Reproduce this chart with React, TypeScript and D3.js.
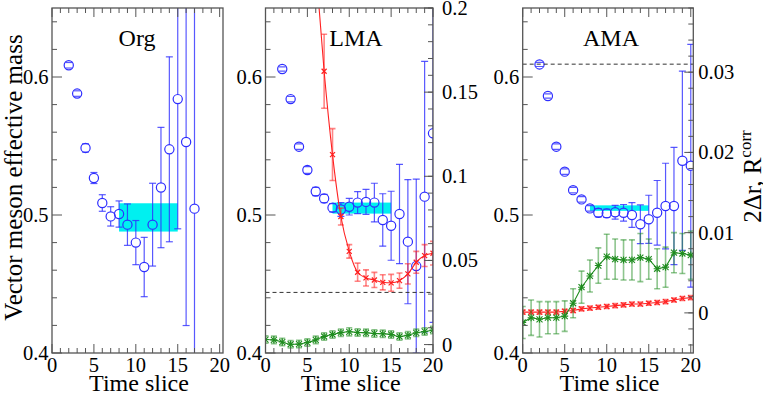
import React from 'react';
import * as d3 from 'd3';

// ---------------- DATA ----------------
const orgT = [2, 3, 4, 5, 6, 7, 8, 9, 10, 11, 12, 13, 14, 15, 16, 17];
const orgMass = [0.6085, 0.588, 0.5486, 0.5268, 0.5087, 0.499, 0.5007, 0.493, 0.48, 0.4623, 0.493, 0.5199, 0.5476, 0.584, 0.5529, 0.5046];
const orgErr = [0.002, 0.002, 0.003, 0.004, 0.006, 0.007, 0.0095, 0.015, 0.016, 0.0215, 0.03, 0.0436, 0.067, 0.094, 0.133, 0.2];
const orgBand = [8, 15, 0.488, 0.5085];

const lmaT = [2, 3, 4, 5, 6, 7, 8, 9, 10, 11, 12, 13, 14, 15, 16, 17, 18, 19, 20];
const lmaMass = [0.6058, 0.584, 0.5495, 0.5326, 0.517, 0.512, 0.5053, 0.504, 0.506, 0.509, 0.5095, 0.509, 0.4964, 0.4922, 0.5007, 0.4807, 0.463, 0.5133, 0.5592];
const lmaErr = [0.0015, 0.002, 0.002, 0.0025, 0.003, 0.003, 0.003, 0.005, 0.006, 0.008, 0.009, 0.014, 0.019, 0.025, 0.036, 0.045, 0.063, 0.098, 0.137];
const lmaBand = [8, 15, 0.501, 0.509];
const lmaRedT = [6, 7, 8, 9, 10, 11, 12, 13, 14, 15, 16, 17, 18, 19, 20];
const lmaRed = [0.225, 0.1624, 0.1129, 0.0761, 0.0554, 0.043, 0.0396, 0.0384, 0.037, 0.0367, 0.038, 0.042, 0.0489, 0.0529, 0.0543];
const lmaRedErr = [0.02, 0.022, 0.0154, 0.005, 0.004, 0.0054, 0.0048, 0.0045, 0.0045, 0.005, 0.0045, 0.006, 0.0065, 0.0065, 0.007];
const lmaGreenT = [0, 1, 2, 3, 4, 5, 6, 7, 8, 9, 10, 11, 12, 13, 14, 15, 16, 17, 18, 19, 20];
const lmaGreen = [0.003, 0.0028, 0.0015, 0.0002, 0.0003, 0.0012, 0.0028, 0.0048, 0.006, 0.0071, 0.0076, 0.0072, 0.007, 0.0066, 0.0064, 0.006, 0.0048, 0.0055, 0.007, 0.0078, 0.0087];
const lmaGreenErr = [0.0022, 0.0022, 0.0022, 0.0022, 0.0022, 0.0022, 0.0022, 0.0022, 0.0022, 0.0022, 0.0024, 0.0022, 0.0022, 0.0022, 0.0022, 0.0022, 0.0022, 0.0022, 0.0022, 0.0022, 0.0022];
const lmaDashed = 0.031;

const amaT = [2, 3, 4, 5, 6, 7, 8, 9, 10, 11, 12, 13, 14, 15, 16, 17, 18, 19, 20];
const amaMass = [0.6091, 0.5862, 0.5495, 0.5314, 0.518, 0.5113, 0.5048, 0.5016, 0.5012, 0.502, 0.5016, 0.5, 0.4933, 0.4969, 0.5016, 0.5065, 0.5065, 0.5393, 0.5357];
const amaErr = [0.0015, 0.0015, 0.002, 0.002, 0.002, 0.002, 0.002, 0.003, 0.003, 0.005, 0.006, 0.009, 0.014, 0.0174, 0.0234, 0.031, 0.0425, 0.065, 0.088];
const amaBand = [8, 15, 0.503, 0.507];
const amaRedT = [0, 1, 2, 3, 4, 5, 6, 7, 8, 9, 10, 11, 12, 13, 14, 15, 16, 17, 18, 19, 20];
const amaRed = [0.0001, 0.0001, 0.0001, 0.0001, 0.0001, 0.0002, 0.0003, 0.0005, 0.0006, 0.0007, 0.0008, 0.0009, 0.001, 0.0011, 0.0011, 0.0012, 0.0013, 0.0014, 0.0016, 0.0018, 0.0019];
const amaRedErr = [0.00025, 0.00025, 0.00025, 0.00025, 0.00025, 0.00025, 0.00025, 0.00025, 0.00025, 0.00025, 0.00025, 0.00025, 0.00025, 0.00025, 0.00025, 0.00025, 0.00025, 0.00025, 0.00025, 0.00025, 0.00025];
const amaGreenT = [0, 1, 2, 3, 4, 5, 6, 7, 8, 9, 10, 11, 12, 13, 14, 15, 16, 17, 18, 19, 20];
const amaGreen = [-0.0012, -0.0006, -0.0008, -0.0006, -0.0006, -0.0004, 0.0012, 0.0032, 0.0046, 0.0059, 0.007, 0.0067, 0.0066, 0.0066, 0.0069, 0.0067, 0.0055, 0.0057, 0.0075, 0.0074, 0.0072];
const amaGreenErr = [0.002, 0.0022, 0.0022, 0.002, 0.002, 0.0019, 0.0018, 0.002, 0.002, 0.0022, 0.0028, 0.0025, 0.0025, 0.0025, 0.003, 0.0025, 0.0025, 0.0025, 0.0025, 0.0025, 0.003];
const amaDashed = 0.031;

const xMajorTicks = [0, 5, 10, 15, 20];
const leftMajorTicks = [0.4, 0.5, 0.6];
const lmaRightTicks = [0, 0.05, 0.1, 0.15, 0.2];
const amaRightTicks = [0, 0.01, 0.02, 0.03];

// ---------------- STYLE ----------------
const TOP = 8;
const BOTTOM = 353;
const FRAME = '#555';
const BLUE = '#2e2eff';
const RED = '#ff2020';
const GREEN = '#1e8c1e';
const FONT = 'Liberation Serif';

type Series = { t: number[]; v: number[]; e: number[] };

type PanelProps = {
  id: string;
  x0: number;
  x1: number;
  xmax: number;
  title: string;
  titleX: number;
  blue: Series;
  band: number[];
  right?: {
    domain: [number, number];
    ticks: number[];
    minorStep: number;
    labelGap: number;
    dashed: number;
    red: Series;
    green: Series;
    curve: d3.CurveFactory;
  };
};

function range(a: number, b: number, s: number) {
  const out: number[] = [];
  for (let v = a; v <= b + 1e-9; v += s) out.push(+v.toFixed(6));
  return out;
}

const txt = { fontFamily: FONT };

function Panel(p: PanelProps) {
  const x = d3.scaleLinear().domain([0, p.xmax]).range([p.x0, p.x1]);
  const y = d3.scaleLinear().domain([0.4, 0.65]).range([BOTTOM, TOP]);
  const clip = `clip-${p.id}`;
  const fmt = (v: number) => String(+v.toFixed(3));
  const xMinor = range(0, Math.floor(p.xmax), 1);
  const yMinor = range(0.4, 0.65, 0.02);

  let rightEls: React.ReactNode = null;
  let dataRight: React.ReactNode = null;
  if (p.right) {
    const r = p.right;
    const yr = d3.scaleLinear().domain(r.domain).range([BOTTOM, TOP]);
    const minor = range(Math.ceil(r.domain[0] / r.minorStep) * r.minorStep, r.domain[1], r.minorStep);
    rightEls = (
      <g>
        {minor.map((v, i) => (
          <line key={'rm' + i} x1={p.x1} x2={p.x1 - 5} y1={yr(v)} y2={yr(v)} stroke={FRAME} strokeWidth={1} />
        ))}
        {r.ticks.map((v, i) => (
          <g key={'rt' + i}>
            <line x1={p.x1} x2={p.x1 - 9} y1={yr(v)} y2={yr(v)} stroke={FRAME} strokeWidth={1} />
            <text x={p.x1 + r.labelGap} y={yr(v) + 7} fontSize={20.5} style={txt} fill="#000">
              {fmt(v)}
            </text>
          </g>
        ))}
      </g>
    );
    const line = d3
      .line<number>()
      .x((_, i) => x(r.red.t[i]))
      .y((d) => yr(d))
      .curve(r.curve);
    const gline = d3
      .line<number>()
      .x((_, i) => x(r.green.t[i]))
      .y((d) => yr(d))
      .curve(r.curve);
    dataRight = (
      <g>
        <line x1={p.x0} x2={p.x1} y1={yr(r.dashed)} y2={yr(r.dashed)} stroke="#333" strokeWidth={1} strokeDasharray="4,3" />
        {r.red.t.map((t, i) => {
          const cx = x(t);
          const a = yr(r.red.v[i] + r.red.e[i]);
          const b = yr(r.red.v[i] - r.red.e[i]);
          return (
            <g key={'re' + i} stroke={RED} strokeOpacity={0.55} strokeWidth={1.6}>
              <line x1={cx} x2={cx} y1={a} y2={b} />
              <line x1={cx - 3} x2={cx + 3} y1={a} y2={a} />
              <line x1={cx - 3} x2={cx + 3} y1={b} y2={b} />
            </g>
          );
        })}
        <path d={line(r.red.v) || ''} fill="none" stroke={RED} strokeWidth={1.1} />
        {r.red.t.map((t, i) => {
          const cx = x(t);
          const cy = yr(r.red.v[i]);
          const s = 2.5;
          return (
            <g key={'rx' + i} stroke={RED} strokeWidth={1.2}>
              <line x1={cx - s} x2={cx + s} y1={cy - s} y2={cy + s} />
              <line x1={cx - s} x2={cx + s} y1={cy + s} y2={cy - s} />
            </g>
          );
        })}
        {r.green.t.map((t, i) => {
          const cx = x(t);
          const a = yr(r.green.v[i] + r.green.e[i]);
          const b = yr(r.green.v[i] - r.green.e[i]);
          return (
            <g key={'ge' + i} stroke={GREEN} strokeOpacity={0.5} strokeWidth={1.6}>
              <line x1={cx} x2={cx} y1={a} y2={b} />
              <line x1={cx - 3} x2={cx + 3} y1={a} y2={a} />
              <line x1={cx - 3} x2={cx + 3} y1={b} y2={b} />
            </g>
          );
        })}
        <path d={gline(r.green.v) || ''} fill="none" stroke={GREEN} strokeWidth={1.1} />
        {r.green.t.map((t, i) => {
          const cx = x(t);
          const cy = yr(r.green.v[i]);
          const s = 3;
          return (
            <g key={'gx' + i} stroke={GREEN} strokeWidth={1.1}>
              <line x1={cx - s} x2={cx + s} y1={cy - s} y2={cy + s} />
              <line x1={cx - s} x2={cx + s} y1={cy + s} y2={cy - s} />
              <line x1={cx} x2={cx} y1={cy - s - 0.5} y2={cy + s + 0.5} />
              <line x1={cx - s - 0.5} x2={cx + s + 0.5} y1={cy} y2={cy} />
            </g>
          );
        })}
      </g>
    );
  }

  const R = 4.6;
  return (
    <g>
      <defs>
        <clipPath id={clip}>
          <rect x={p.x0} y={TOP} width={p.x1 - p.x0} height={BOTTOM - TOP} />
        </clipPath>
      </defs>
      <g clipPath={`url(#${clip})`}>
        <rect x={x(p.band[0])} y={y(p.band[3])} width={x(p.band[1]) - x(p.band[0])} height={y(p.band[2]) - y(p.band[3])} fill="#00f0f0" />
        {p.blue.t.map((t, i) => {
          const cx = x(t);
          const cy = y(p.blue.v[i]);
          const a = y(p.blue.v[i] + p.blue.e[i]);
          const b = y(p.blue.v[i] - p.blue.e[i]);
          return (
            <g key={'b' + i} stroke={BLUE} strokeWidth={1.2} fill="none">
              {a < cy - R && <line x1={cx} x2={cx} y1={a} y2={cy - R} strokeOpacity={0.8} />}
              {b > cy + R && <line x1={cx} x2={cx} y1={cy + R} y2={b} strokeOpacity={0.8} />}
              <line x1={cx - 3.5} x2={cx + 3.5} y1={a} y2={a} strokeOpacity={0.8} />
              <line x1={cx - 3.5} x2={cx + 3.5} y1={b} y2={b} strokeOpacity={0.8} />
              <circle cx={cx} cy={cy} r={R} />
            </g>
          );
        })}
        {dataRight}
      </g>
      <rect x={p.x0} y={TOP} width={p.x1 - p.x0} height={BOTTOM - TOP} fill="none" stroke={FRAME} strokeWidth={1.3} />
      {xMinor.map((v, i) => {
        const major = v % 5 === 0;
        const len = major ? 9 : 5;
        return (
          <g key={'xt' + i} stroke={FRAME} strokeWidth={1}>
            <line x1={x(v)} x2={x(v)} y1={BOTTOM} y2={BOTTOM - len} />
            <line x1={x(v)} x2={x(v)} y1={TOP} y2={TOP + len} />
          </g>
        );
      })}
      {xMajorTicks.map((v, i) => (
        <text key={'xl' + i} x={x(v)} y={371.5} textAnchor="middle" fontSize={20.5} style={txt} fill="#000">
          {v}
        </text>
      ))}
      {yMinor.map((v, i) => {
        const major = Math.abs(v * 10 - Math.round(v * 10)) < 1e-6;
        return (
          <line key={'yt' + i} x1={p.x0} x2={p.x0 + (major ? 10 : 5)} y1={y(v)} y2={y(v)} stroke={FRAME} strokeWidth={1} />
        );
      })}
      {leftMajorTicks.map((v, i) => (
        <text key={'yl' + i} x={p.x0 - 3.5} y={y(v) + 7} textAnchor="end" fontSize={20.5} style={txt} fill="#000">
          {v.toFixed(1)}
        </text>
      ))}
      {rightEls}
      <text x={p.titleX} y={46} textAnchor="middle" fontSize={24} style={txt} fill="#000">
        {p.title}
      </text>
      <text x={(p.x0 + p.x1) / 2 + 1.5} y={391} textAnchor="middle" fontSize={24} style={txt} fill="#000">
        Time slice
      </text>
    </g>
  );
}

export default function App() {
  return (
    <svg width={763} height={394} viewBox="0 0 763 394" style={{ display: 'block', position: 'absolute', left: 0, top: 0, background: '#fff', fontFamily: FONT }}>
      <rect x={0} y={0} width={763} height={394} fill="#fff" />
      <Panel id="org" x0={52} x1={223} xmax={20.4} title="Org" titleX={137} blue={{ t: orgT, v: orgMass, e: orgErr }} band={orgBand} />
      <Panel
        id="lma"
        x0={265.5}
        x1={433}
        xmax={20}
        title="LMA"
        titleX={356}
        blue={{ t: lmaT, v: lmaMass, e: lmaErr }}
        band={lmaBand}
        right={{
          domain: [-0.005, 0.2],
          ticks: lmaRightTicks,
          minorStep: 0.01,
          labelGap: 9,
          dashed: lmaDashed,
          red: { t: lmaRedT, v: lmaRed, e: lmaRedErr },
          green: { t: lmaGreenT, v: lmaGreen, e: lmaGreenErr },
          curve: d3.curveMonotoneX,
        }}
      />
      <Panel
        id="ama"
        x0={522.7}
        x1={693.3}
        xmax={20.3}
        title="AMA"
        titleX={611}
        blue={{ t: amaT, v: amaMass, e: amaErr }}
        band={amaBand}
        right={{
          domain: [-0.005, 0.038],
          ticks: amaRightTicks,
          minorStep: 0.002,
          labelGap: 5,
          dashed: amaDashed,
          red: { t: amaRedT, v: amaRed, e: amaRedErr },
          green: { t: amaGreenT, v: amaGreen, e: amaGreenErr },
          curve: d3.curveLinear,
        }}
      />
      <text transform="translate(21.5,177.5) rotate(-90)" textAnchor="middle" fontSize={25} style={txt} fill="#000">
        Vector meson effective mass
      </text>
      <text transform="translate(761,176.5) rotate(-90)" textAnchor="middle" fontSize={25} style={txt} fill="#000">
        2Δr, R
        <tspan dy={-10} fontSize={17}>
          corr
        </tspan>
      </text>
    </svg>
  );
}
